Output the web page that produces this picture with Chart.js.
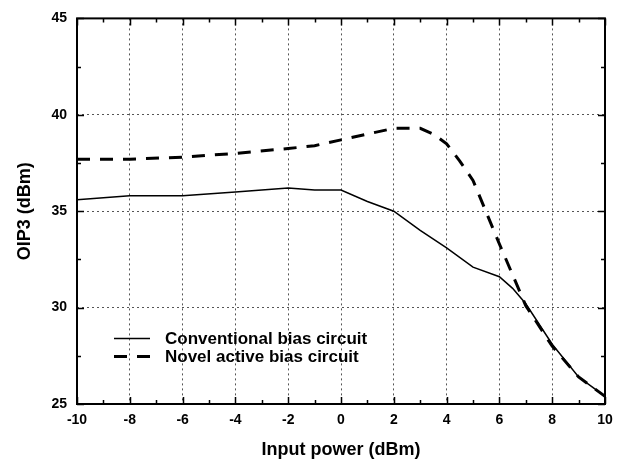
<!DOCTYPE html>
<html>
<head>
<meta charset="utf-8">
<script src="https://cdn.jsdelivr.net/npm/chart.js@4"></script>
<style>
  html, body { margin: 0; padding: 0; background: #fff; }
  #wrap { width: 621px; height: 464px; }
</style>
</head>
<body>
<div id="wrap"><canvas id="oip3-chart" width="621" height="464"></canvas></div>
<script>
// valores (Input power em dBm, OIP3 em dBm)
const conventionalX = [-10, -8, -6, -4, -2, -1, 0, 1, 2, 3, 4, 5, 6, 6.5, 7, 8, 9, 10];
const conventionalY = [35.6, 35.8, 35.8, 36.0, 36.2, 36.1, 36.1, 35.5, 35.0, 34.0, 33.1, 32.1, 31.6, 31.0, 30.2, 28.1, 26.4, 25.4];

const novelX = [-10, -8, -6, -4, -2, -1, 0, 1, 2, 3, 3.5, 4, 4.5, 5, 6, 7, 8, 9, 10];
const novelY = [37.7, 37.7, 37.8, 38.0, 38.25, 38.4, 38.7, 39.0, 39.3, 39.3, 39.0, 38.5, 37.6, 36.6, 33.3, 30.1, 28.0, 26.4, 25.4];

const seriesLabels = ['Conventional bias circuit', 'Novel active bias circuit'];
const xTitle = 'Input power (dBm)';
const yTitle = 'OIP3 (dBm)';

const FONT = "'Liberation Sans', Arial, sans-serif";
Chart.defaults.font.family = FONT;
Chart.defaults.color = '#000';

function toPoints(xs, ys) {
    return xs.map((x, i) => ({ x: x, y: ys[i] }));
}

// moldura e ticks para dentro, nos quatro lados
const frameTicks = {
    id: 'frameTicks',
    afterDatasetsDraw(chart) {
        const { ctx, chartArea: a, scales: { x, y } } = chart;
        ctx.save();
        ctx.strokeStyle = '#000';
        ctx.lineWidth = 1.5;
        ctx.beginPath();
        for (let v = x.min; v <= x.max; v += 1) {
            const len = v % 2 === 0 ? 7 : 4;
            const px = Math.round(x.getPixelForValue(v)) + 0.5;
            ctx.moveTo(px, a.bottom); ctx.lineTo(px, a.bottom - len);
            ctx.moveTo(px, a.top); ctx.lineTo(px, a.top + len);
        }
        for (let v = y.min; v <= y.max; v += 2.5) {
            const len = v % 5 === 0 ? 7 : 4;
            const py = Math.round(y.getPixelForValue(v)) + 0.5;
            ctx.moveTo(a.left, py); ctx.lineTo(a.left + len, py);
            ctx.moveTo(a.right, py); ctx.lineTo(a.right - len, py);
        }
        ctx.stroke();
        ctx.lineWidth = 2;
        ctx.strokeRect(a.left, a.top, a.right - a.left, a.bottom - a.top);
        ctx.restore();
    }
};

// legenda dentro da área do gráfico
const innerLegend = {
    id: 'innerLegend',
    afterDraw(chart) {
        const { ctx, chartArea: a } = chart;
        const rows = [a.top + 320, a.top + 338];
        ctx.save();
        chart.data.datasets.forEach((ds, i) => {
            const yy = rows[i];
            ctx.strokeStyle = ds.borderColor;
            ctx.lineWidth = ds.borderWidth;
            ctx.setLineDash(ds.borderDash || []);
            ctx.beginPath();
            ctx.moveTo(a.left + 37, yy);
            ctx.lineTo(a.left + 73, yy);
            ctx.stroke();
            ctx.setLineDash([]);
            ctx.fillStyle = '#000';
            ctx.font = 'bold 17px ' + FONT;
            ctx.textBaseline = 'middle';
            ctx.textAlign = 'left';
            ctx.fillText(ds.label, a.left + 88, yy + 1);
        });
        ctx.restore();
    }
};

new Chart(document.getElementById('oip3-chart').getContext('2d'), {
    type: 'line',
    data: {
        datasets: [
            {
                label: seriesLabels[0],
                data: toPoints(conventionalX, conventionalY),
                borderColor: '#000',
                borderWidth: 1.5,
                pointRadius: 0,
                tension: 0
            },
            {
                label: seriesLabels[1],
                data: toPoints(novelX, novelY),
                borderColor: '#000',
                borderWidth: 3,
                borderDash: [13, 10],
                pointRadius: 0,
                tension: 0
            }
        ]
    },
    options: {
        responsive: false,
        animation: false,
        devicePixelRatio: 1,
        layout: { padding: { top: 14, right: 16, left: 0, bottom: 0 } },
        plugins: {
            legend: { display: false },
            tooltip: { enabled: false }
        },
        scales: {
            x: {
                type: 'linear',
                min: -10,
                max: 10,
                ticks: { stepSize: 2, padding: 8, font: { size: 14, weight: 'bold' } },
                grid: { color: '#555', lineWidth: 1, drawTicks: false },
                border: { display: false, dash: [2, 3] },
                title: {
                    display: true,
                    text: xTitle,
                    font: { size: 18, weight: 'bold' },
                    padding: { top: 0, bottom: 3 }
                },
                afterFit(scale) { scale.height = 60; }
            },
            y: {
                type: 'linear',
                min: 25,
                max: 45,
                ticks: { stepSize: 5, padding: 10, font: { size: 14, weight: 'bold' } },
                grid: { color: '#555', lineWidth: 1, drawTicks: false },
                border: { display: false, dash: [2, 3] },
                title: {
                    display: true,
                    text: yTitle,
                    font: { size: 18, weight: 'bold' },
                    padding: { top: 14, bottom: 0 }
                },
                afterFit(scale) { scale.width = 77; }
            }
        }
    },
    plugins: [frameTicks, innerLegend]
});
</script>
</body>
</html>
